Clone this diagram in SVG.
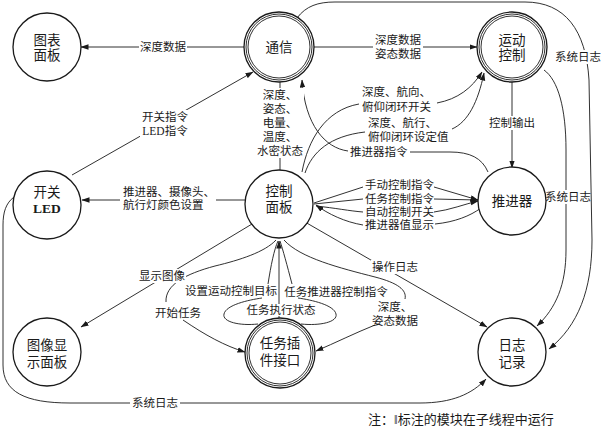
<svg xmlns="http://www.w3.org/2000/svg" width="601" height="427" viewBox="0 0 601 427">
<defs>
<marker id="ah" markerUnits="userSpaceOnUse" markerWidth="8" markerHeight="6" refX="7.5" refY="2.75" orient="auto">
<path d="M0,0 L8,2.75 L0,5.5 z" fill="#1a1a1a"/>
</marker>
<style>
.n{fill:#fff;stroke:#1a1a1a;stroke-width:1.3}
.r{fill:none;stroke:#1a1a1a;stroke-width:0.9}
.c{fill:none;stroke:#1a1a1a;stroke-width:0.9}
.a{marker-end:url(#ah)}
.t{font-family:"Liberation Serif","Noto Sans CJK SC",serif;font-size:13.5px;fill:#1a1a1a;text-anchor:middle}
.b{font-weight:bold}
.l{font-family:"Liberation Serif","Noto Sans CJK SC",serif;font-size:11.5px;fill:#1a1a1a}
.m{text-anchor:middle}
.bg{fill:#fff}
</style>
</defs>
<rect width="601" height="427" fill="#fff"/>

<g id="connectors">
<!-- 通信 -> 图表面板 -->
<path class="c a" d="M245,47 L81,47"/>
<!-- 通信 -> 运动控制 -->
<path class="c a" d="M314,47 L477,47"/>
<!-- 开关LED -> 通信 -->
<path class="c a" d="M72,175 L253,72"/>
<!-- 通信 - 控制面板 -->
<path class="c" d="M280,82 L280,170"/>
<!-- 控制面板 -> 开关LED -->
<path class="c a" d="M245,200 L82,200"/>
<!-- 控制面板 -> 运动控制 (闭环开关) -->
<path class="c" d="M302,172 C308,140 325,110 359,104"/>
<path class="c a" d="M437,103 C458,99 472,88 482,72"/>
<!-- 控制面板 -> 运动控制 (设定值) -->
<path class="c" d="M305,173 C312,152 330,136 365,132"/>
<path class="c a" d="M452,129 C468,122 478,102 484,73"/>
<!-- 推进器 -> 通信 -->
<path class="c" d="M488,172 C482,158 470,152 450,152 L410,152"/>
<path class="c a" d="M348,151 C325,148 305,125 302,80"/>
<!-- 运动控制 -> 推进器 -->
<path class="c a" d="M512,82 L512,168"/>
<!-- 控制面板 <-> 推进器 -->
<path class="c" d="M314,203 L363,187"/>
<path class="c a" d="M434,187 L478,200"/>
<path class="c" d="M314,204 L363,199"/>
<path class="c a" d="M434,199 L478,200"/>
<path class="c" d="M316,206 C335,208 350,211 363,212"/>
<path class="c a" d="M434,212 C450,210 465,204 478,201"/>
<path class="c" d="M481,208 C470,216 455,222 435,224"/>
<path class="c a" d="M363,225 C345,222 328,214 316,205"/>
<!-- 运动控制 -> 日志记录 -->
<path class="c a" d="M544,70 C558,80 566,108 566,150 L566,250 C566,285 556,308 537,326"/>
<!-- 通信 -> 日志记录 -->
<path class="c a" d="M297,18 C306,6 318,2 335,2 L525,2 C565,2 586,30 589,80 L592,240 C592,290 578,326 549,349"/>
<!-- 开关LED -> 日志记录 -->
<path class="c a" d="M14,197 C6,203 3,212 3,225 L3,365 C3,392 25,403 70,403 L420,403 C452,403 472,394 486,379"/>
<!-- 控制面板 -> 图像显示面板 -->
<path class="c a" d="M252,224 L81,327"/>
<!-- 控制面板 -> 日志记录 -->
<path class="c a" d="M305,222 L487,327"/>
<!-- 控制面板 -> 任务插件接口 (开始任务) -->
<path class="c" d="M276,240 C265,252 240,260 215,266 C185,274 165,285 166,302"/>
<path class="c a" d="M183,320 C205,335 225,346 245,352"/>
<!-- 任务插件接口 -> 控制面板 -->
<path class="c a" d="M279,304 L279,241"/>
<path class="c" d="M279,316 L279,319"/>
<!-- 设置运动控制目标 loop -->
<path class="c" d="M258,324 C240,326 222,322 224,314 C226,305 248,300 262,298"/>
<path class="c" d="M268,284 C271,265 274,250 278,241"/>
<!-- 任务推进器控制指令 loop -->
<path class="c" d="M301,324 C320,326 338,322 336,314 C334,305 312,300 298,298"/>
<path class="c" d="M292,284 C287,265 283,250 280,241"/>
<!-- 控制面板 -> 任务插件接口 (深度、姿态数据) -->
<path class="c" d="M284,240 C300,258 340,268 375,277 C398,283 407,290 405,299"/>
<path class="c a" d="M375,325 C355,333 335,343 316,351"/>
</g>

<g id="labels">
<rect class="bg" x="139" y="40" width="48" height="14"/>
<text class="l m" x="163" y="51">深度数据</text>
<rect class="bg" x="373" y="33" width="50" height="28"/>
<text class="l m" x="398" y="44">深度数据</text>
<text class="l m" x="398" y="58">姿态数据</text>
<rect class="bg" x="140" y="110" width="50" height="28"/>
<text class="l m" x="165" y="121">开关指令</text>
<text class="l m" x="165" y="135">LED指令</text>
<rect class="bg" x="256" y="88" width="48" height="70"/>
<text class="l m" x="280" y="99">深度、</text>
<text class="l m" x="280" y="113">姿态、</text>
<text class="l m" x="280" y="127">电量、</text>
<text class="l m" x="280" y="141">温度、</text>
<text class="l m" x="280" y="155">水密状态</text>
<rect class="bg" x="120" y="185" width="96" height="27"/>
<text class="l" x="123" y="196">推进器、摄像头、</text>
<text class="l" x="123" y="209">航行灯颜色设置</text>
<text class="l" x="362" y="96">深度、航向、</text>
<text class="l" x="362" y="111">俯仰闭环开关</text>
<text class="l" x="368" y="127">深度、航行、</text>
<text class="l" x="368" y="141">俯仰闭环设定值</text>
<text class="l" x="350" y="156">推进器指令</text>
<rect class="bg" x="488" y="116" width="48" height="14"/>
<text class="l m" x="512" y="127">控制输出</text>
<text class="l" x="365" y="189">手动控制指令</text>
<text class="l" x="365" y="203">任务控制指令</text>
<text class="l" x="365" y="216">自动控制开关</text>
<text class="l" x="365" y="229">推进器值显示</text>
<rect class="bg" x="554" y="50" width="47" height="14"/>
<text class="l m" x="578" y="61">系统日志</text>
<rect class="bg" x="545" y="190" width="44" height="14"/>
<text class="l m" x="568" y="201">系统日志</text>
<rect class="bg" x="138" y="269" width="48" height="14"/>
<text class="l m" x="162" y="280">显示图像</text>
<text class="l m" x="178" y="317">开始任务</text>
<text class="l m" x="231" y="295">设置运动控制目标</text>
<text class="l m" x="336" y="296">任务推进器控制指令</text>
<text class="l m" x="281" y="314">任务执行状态</text>
<rect class="bg" x="371" y="260" width="48" height="14"/>
<text class="l m" x="395" y="271">操作日志</text>
<text class="l m" x="395" y="311">深度、</text>
<text class="l m" x="395" y="325">姿态数据</text>
<rect class="bg" x="130" y="396" width="50" height="14"/>
<text class="l m" x="155" y="407">系统日志</text>
</g>

<g id="node-chart">
<circle class="n" cx="47" cy="47" r="34"/>
<text class="t" x="47" y="45">图表</text>
<text class="t" x="47" y="60">面板</text>
</g>
<g id="node-comm">
<circle class="n" cx="279" cy="47" r="35" stroke-width="1"/>
<circle class="r" cx="279" cy="47" r="33"/>
<circle class="r" cx="279" cy="47" r="31"/>
<text class="t" x="279" y="52">通信</text>
</g>
<g id="node-motion">
<circle class="n" cx="512" cy="47" r="35" stroke-width="1"/>
<circle class="r" cx="512" cy="47" r="33"/>
<circle class="r" cx="512" cy="47" r="31"/>
<text class="t" x="512" y="45">运动</text>
<text class="t" x="512" y="60">控制</text>
</g>
<g id="node-led">
<circle class="n" cx="47" cy="205" r="34"/>
<text class="t" x="47" y="197">开关</text>
<text class="t b" x="47" y="213">LED</text>
</g>
<g id="node-panel">
<circle class="n" cx="279" cy="204" r="34"/>
<text class="t" x="279" y="196">控制</text>
<text class="t" x="279" y="212">面板</text>
</g>
<g id="node-thruster">
<circle class="n" cx="512" cy="201" r="34" stroke-width="1.5"/>
<text class="t" x="512" y="206">推进器</text>
</g>
<g id="node-image">
<circle class="n" cx="47" cy="352" r="34"/>
<text class="t" x="47" y="350">图像显</text>
<text class="t" x="47" y="367">示面板</text>
</g>
<g id="node-plugin">
<circle class="n" cx="280" cy="353" r="35" stroke-width="1"/>
<circle class="r" cx="280" cy="353" r="33"/>
<circle class="r" cx="280" cy="353" r="31"/>
<text class="t" x="280" y="348">任务插</text>
<text class="t" x="280" y="365">件接口</text>
</g>
<g id="node-log">
<circle class="n" cx="512" cy="352" r="34"/>
<text class="t" x="512" y="350">日志</text>
<text class="t" x="512" y="367">记录</text>
</g>

<text class="l" x="368" y="424" style="font-size:13px">注：‖标注的模块在子线程中运行</text>
</svg>
